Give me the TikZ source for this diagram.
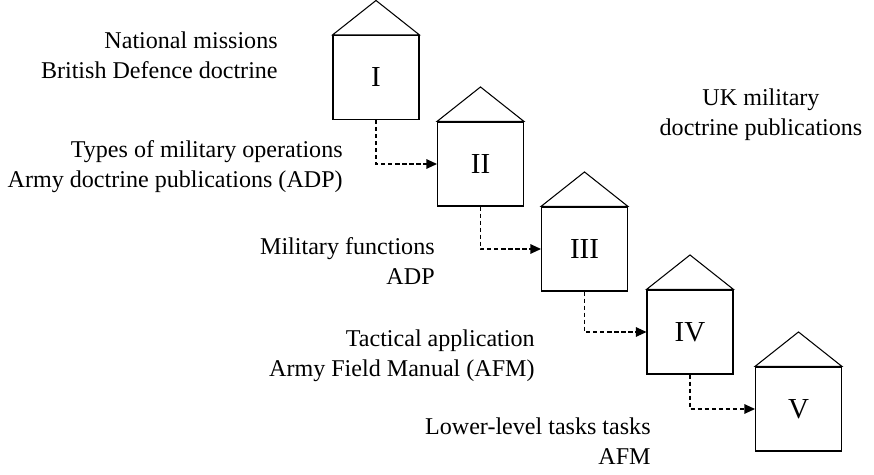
\documentclass[tikz,border=0pt]{standalone}
\usepackage{fontspec}
\setmainfont{Liberation Serif}
\usetikzlibrary{arrows.meta,positioning,calc}

\begin{document}
\begin{tikzpicture}[
    house/.style={rectangle, draw, line width=0.6pt, minimum width=1.72cm, minimum height=1.68cm, inner sep=0pt, font=\fontsize{16.5}{19}\selectfont},
    roof/.style={line width=0.6pt, line join=miter},
    label/.style={anchor=east, align=right, inner sep=0pt, font=\fontsize{13.7}{17}\selectfont},
    arrow/.style={-{Triangle[length=2.1mm, width=1.9mm]}, line width=0.6pt, dash pattern=on 2.4pt off 1.6pt}
]
\useasboundingbox (0,0) rectangle (17.48,-9.5);

% levels
\node[house] (one)   at (7.52,-1.55)  {I};
\node[house] (two)   at (9.61,-3.28)  {II};
\node[house] (three) at (11.69,-4.98) {III};
\node[house] (four)  at (13.80,-6.64) {IV};
\node[house] (five)  at (15.97,-8.18) {V};
\foreach \h in {one,two,three,four,five}{\draw[roof] (\h.north west) -- ($(\h.north)+(0,0.69)$) -- (\h.north east) -- cycle;}
\foreach \a/\b in {one/two,two/three,three/four,four/five}{\draw[arrow] (\a.south) |- (\b.west);}

% texts
\node[label] (nat)  at (5.56,-1.10)  {National missions\\British Defence doctrine};
\node[label] (ops)  at (6.86,-3.34)  {Types of military operations\\Army doctrine publications (ADP)};
\node[label] (fun)  at (8.70,-5.22)  {Military functions\\ADP};
\node[label] (tac)  at (10.70,-7.11) {Tactical application\\Army Field Manual (AFM)};
\node[label] (low)  at (13.02,-8.83) {Lower-level tasks tasks\\AFM};
\node[label, anchor=center, align=center] (uk) at (15.22,-2.29) {UK military\\doctrine publications};
\end{tikzpicture}
\end{document}
